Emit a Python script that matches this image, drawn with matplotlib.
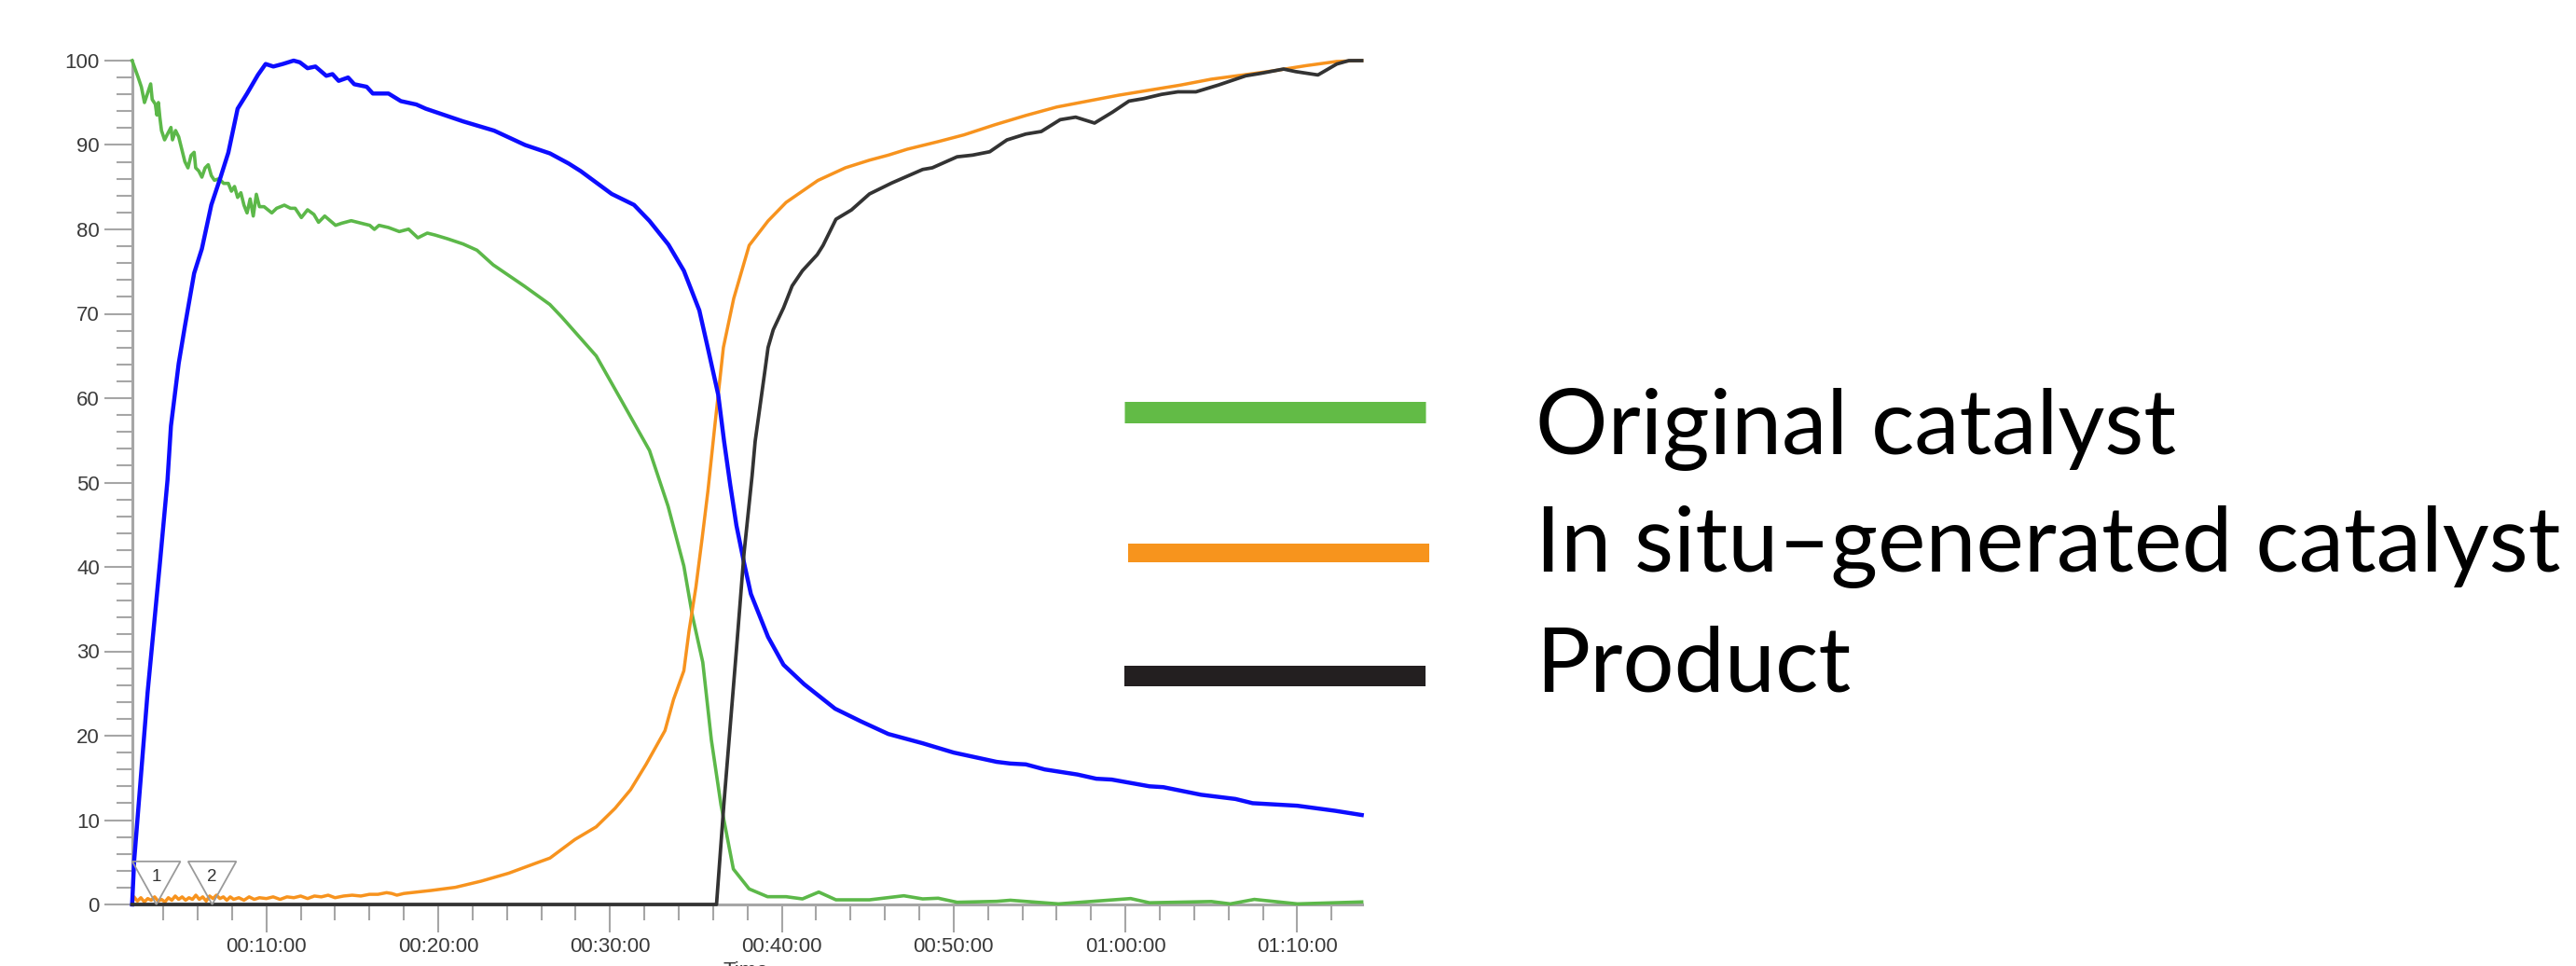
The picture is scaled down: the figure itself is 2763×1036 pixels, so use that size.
import matplotlib
matplotlib.use('Agg')
import matplotlib.pyplot as plt
from matplotlib.lines import Line2D
from matplotlib.patches import Polygon
from matplotlib.ticker import MultipleLocator, FuncFormatter

# ---------------- data (time in minutes, value in %) ----------------
blue_t = [2.19, 2.31, 3.09, 3.81, 4.25, 4.45, 4.90, 5.26, 5.80, 6.25, 6.80, 7.34, 7.79,
          8.33, 8.88, 9.51, 9.96, 10.41, 10.96, 11.59, 11.95, 12.40, 12.86, 13.49, 13.85,
          14.21, 14.76, 15.12, 15.84, 16.20, 17.11, 17.83, 18.73, 19.28, 21.45, 23.26,
          25.06, 26.51, 27.60, 28.3, 30.1, 31.4, 32.3, 33.4, 34.3, 35.2, 35.7, 36.3, 36.64,
          37.0, 37.36, 37.8, 38.2, 39.2, 40.1, 41.3, 43.1, 44.6, 46.2, 48.2, 50.0, 52.5,
          53.3, 54.2, 55.3, 57.2, 58.3, 59.2, 61.4, 62.2, 64.4, 66.4, 67.4, 70.0, 72.2, 73.75]
blue_v = [0.0, 5.2, 25.1, 40.5, 50.3, 56.7, 64.1, 68.5, 74.8, 77.7, 82.9, 86.2, 89.1,
          94.3, 96.1, 98.3, 99.6, 99.3, 99.6, 100.0, 99.8, 99.1, 99.3, 98.2, 98.4,
          97.6, 98.0, 97.2, 96.9, 96.1, 96.1, 95.2, 94.8, 94.3, 92.8, 91.7,
          90.0, 89.0, 87.8, 86.9, 84.2, 82.9, 81.0, 78.2, 75.1, 70.4, 65.9, 60.4, 54.9,
          49.7, 44.9, 40.5, 36.8, 31.7, 28.4, 26.1, 23.2, 21.7, 20.2, 19.1, 18.0, 16.9,
          16.7, 16.6, 16.0, 15.4, 14.9, 14.8, 14.0, 13.9, 13.0, 12.5, 12.0, 11.7, 11.1, 10.6]

green_t = [2.19, 2.55, 2.73, 2.91, 3.09, 3.27, 3.36, 3.54, 3.63, 3.72, 3.81, 3.90, 4.08,
           4.26, 4.45, 4.54, 4.72, 4.90, 5.08, 5.26, 5.44, 5.62, 5.80, 5.89, 6.07, 6.25,
           6.44, 6.62, 6.80, 6.98, 7.25, 7.52, 7.79, 7.97, 8.15, 8.33, 8.52, 8.70, 8.88,
           9.06, 9.24, 9.42, 9.60, 9.87, 10.32, 10.60, 11.05, 11.41, 11.68, 12.04, 12.40,
           12.77, 13.04, 13.40, 14.03, 14.39, 14.94, 15.66, 16.02, 16.29, 16.56, 17.11,
           17.74, 18.28, 18.82, 19.37, 19.82, 20.54, 21.45, 22.26, 23.2, 25.0, 26.5, 27.2,
           29.2, 30.7, 32.3, 33.38, 34.3, 34.8, 35.4, 35.9, 36.46, 37.18, 38.1, 39.17,
           40.25, 41.2, 42.15, 43.15, 45.1, 47.1, 48.2, 49.1, 50.2, 52.5, 53.3, 56.1, 58.3,
           60.3, 61.4, 65.0, 66.1, 67.5, 70.0, 73.75]
green_v = [100.0, 97.97, 96.87, 95.03, 96.13, 97.24, 95.39, 94.84, 93.55, 95.03, 93.18,
           91.71, 90.61, 91.34, 92.08, 90.61, 91.71, 90.97, 89.50, 88.03, 87.29, 88.76,
           89.13, 87.29, 86.92, 86.19, 87.29, 87.66, 86.37, 85.82, 86.00, 85.45, 85.45,
           84.53, 85.08, 83.79, 84.34, 82.87, 81.95, 83.61, 81.58, 84.16, 82.69, 82.69,
           81.95, 82.50, 82.87, 82.50, 82.50, 81.40, 82.32, 81.77, 80.84, 81.58, 80.48,
           80.73, 81.03, 80.66, 80.48, 80.00, 80.48, 80.22, 79.74, 80.03, 79.00, 79.56,
           79.33, 78.89, 78.27, 77.53, 75.8, 73.3, 71.1, 69.6, 65.0, 59.6, 53.8, 47.2,
           40.1, 34.2, 28.7, 19.5, 11.8, 4.2, 1.84, 0.92, 0.92, 0.66, 1.47, 0.55, 0.55,
           1.03, 0.66, 0.74, 0.26, 0.37, 0.5, 0.07, 0.4, 0.7, 0.2, 0.35, 0.07, 0.6, 0.07, 0.3]

orange_t = [2.19, 2.3, 2.5, 2.7, 2.9, 3.1, 3.3, 3.5, 3.7, 3.9, 4.1, 4.3, 4.5, 4.7, 4.9,
            5.1, 5.3, 5.5, 5.7, 5.9, 6.1, 6.3, 6.5, 6.7, 6.9, 7.1, 7.3, 7.5, 7.7, 7.9,
            8.1, 8.4, 8.7, 9.0, 9.3, 9.6, 10.0, 10.4, 10.8, 11.2, 11.6, 12.0, 12.4, 12.8,
            13.2, 13.6, 14.0, 14.5, 15.0, 15.5, 16.0, 16.5, 17.0, 17.3, 17.6, 18.0, 19.6,
            21.0, 22.5, 24.1, 25.7, 26.51, 27.96, 29.2, 30.3, 31.2, 32.1, 33.2, 33.7, 34.3,
            34.6, 35.0, 35.37, 35.7, 36.1, 36.6, 37.2, 38.1, 39.2, 40.25, 42.1, 43.7, 45.1,
            46.2, 47.3, 49.1, 50.6, 52.4, 54.2, 56.0, 57.8, 59.6, 61.4, 63.2, 65.0, 66.85,
            68.65, 70.5, 72.3, 73.5, 73.75]
orange_v = [0.0, 0.9, 0.4, 0.8, 0.3, 0.7, 0.5, 0.9, 0.4, 0.6, 0.3, 0.8, 0.5, 1.0, 0.6,
            0.9, 0.5, 0.8, 0.6, 1.1, 0.6, 0.9, 0.4, 1.0, 0.7, 1.1, 0.7, 0.9, 0.5, 0.9,
            0.6, 0.8, 0.5, 0.9, 0.6, 0.8, 0.7, 0.9, 0.6, 0.9, 0.8, 1.0, 0.7, 1.0,
            0.9, 1.1, 0.8, 1.0, 1.1, 1.0, 1.2, 1.2, 1.4, 1.3, 1.1, 1.3, 1.66,
            2.03, 2.76, 3.7, 4.9, 5.5, 7.7, 9.2, 11.4, 13.6, 16.6, 20.6, 24.3, 27.7,
            32.4, 37.6, 43.5, 49.0, 56.7, 66.0, 71.8, 78.1, 81.0, 83.2, 85.8, 87.3, 88.2,
            88.8, 89.5, 90.4, 91.2, 92.4, 93.5, 94.5, 95.2, 95.9, 96.5, 97.1, 97.8, 98.3,
            98.8, 99.4, 99.9, 100.0, 100.0]

black_t = [2.19, 36.2, 36.64, 37.36, 37.8, 38.27, 38.45, 39.0, 39.2, 39.5, 40.1, 40.6,
           41.2, 42.06, 42.4, 43.15, 44.05, 45.1, 46.4, 48.2, 48.76, 50.2, 51.1, 52.1,
           53.1, 54.2, 55.1, 56.2, 57.1, 58.2, 59.25, 60.2, 61.06, 62.1, 63.05, 64.1,
           65.4, 67.0, 67.9, 69.2, 69.9, 71.2, 72.3, 73.0, 73.75]
black_v = [0.0, 0.0, 12.2, 30.2, 41.6, 50.8, 54.9, 63.0, 66.0, 68.1, 70.7, 73.3,
           75.1, 77.0, 78.1, 81.2, 82.3, 84.2, 85.5, 87.1, 87.3, 88.6, 88.8, 89.2,
           90.6, 91.3, 91.6, 93.0, 93.3, 92.6, 93.9, 95.2, 95.5, 96.0, 96.3, 96.3,
           97.1, 98.2, 98.5, 99.0, 98.7, 98.3, 99.6, 100.0, 100.0]

marker_t = [3.6, 6.85]
marker_labels = ['1', '2']

legend_labels = ['Original catalyst', 'In situ\u2013generated catalyst', 'Product']
legend_colors = ['#62bb46', '#f7941d', '#231f20']

x_range = (2.19, 73.75)
y_range = (0, 100)

# ---------------- figure ----------------
W, H = 2763, 1036
fig = plt.figure(figsize=(W / 100, H / 100), dpi=100)
fig.patch.set_facecolor('white')

L, R, T, B = 141.7, 1460.6, 65.0, 970.0
ax = fig.add_axes([L / W, 1 - B / H, (R - L) / W, (B - T) / H])
ax.set_xlim(*x_range)
ax.set_ylim(*y_range)

spine_c = '#a6a6a6'
for s in ['top', 'right']:
    ax.spines[s].set_visible(False)
for s in ['left', 'bottom']:
    ax.spines[s].set_color(spine_c)
    ax.spines[s].set_linewidth(2.2)

ax.yaxis.set_major_locator(MultipleLocator(10))
ax.yaxis.set_minor_locator(MultipleLocator(2))
ax.xaxis.set_major_locator(MultipleLocator(10))
ax.xaxis.set_minor_locator(MultipleLocator(2))


def hms(m, pos=None):
    m = int(round(m))
    return f"{m // 60:02d}:{m % 60:02d}:00"


ax.xaxis.set_major_formatter(FuncFormatter(hms))
lab_c = '#3a3a3a'
ax.tick_params(axis='both', which='major', length=21.5, width=1.5, color=spine_c,
               labelsize=16, labelcolor=lab_c, direction='out')
ax.tick_params(axis='both', which='minor', length=12.5, width=1.5, color=spine_c,
               direction='out')
ax.tick_params(axis='y', which='major', pad=3.5)
ax.tick_params(axis='x', which='major', pad=4)
for lab in ax.get_xticklabels() + ax.get_yticklabels():
    lab.set_family(['Liberation Sans', 'DejaVu Sans'])

ax.plot(green_t, green_v, color='#5cb849', lw=2.6, clip_on=False, zorder=3)
ax.plot(blue_t, blue_v, color='#0d0dff', lw=3.2, clip_on=False, zorder=4)
ax.plot(orange_t, orange_v, color='#f7931e', lw=2.5, clip_on=False, zorder=3)
ax.plot(black_t, black_v, color='#333333', lw=2.7, clip_on=False, zorder=5)

# event markers (inverted triangles)
half_w, tri_h = 1.4, 5.1
for t, lab in zip(marker_t, marker_labels):
    tri = Polygon([(t - half_w, tri_h), (t + half_w, tri_h), (t, 0)], closed=True,
                  facecolor='none', edgecolor='#9a9a9a', lw=1.3, zorder=6, clip_on=False)
    ax.add_patch(tri)
    ax.text(t, 3.3, lab, ha='center', va='center', fontsize=13.5, color='#333333',
            family=['Liberation Sans', 'DejaVu Sans'], zorder=7)

# partially visible axis title at bottom edge (cut off in the reference too)
fig.text(776 / W, 1 - 1031 / H, 'Time', ha='left', va='top', fontsize=16, color=lab_c,
         family=['Liberation Sans', 'DejaVu Sans'])

# ---------------- legend ----------------
leg_lines = [(1206, 1529, 442, 23), (1210, 1533, 593, 20), (1206, 1529, 725, 22)]
for (x0, x1, y, th), c in zip(leg_lines, legend_colors):
    fig.add_artist(Line2D([x0 / W, x1 / W], [1 - y / H, 1 - y / H], transform=fig.transFigure,
                          color=c, lw=th * 0.72, solid_capstyle='butt'))

renderer = fig.canvas.get_renderer()
probe = fig.text(0, 0, legend_labels[1], fontsize=100, family=['Lato', 'DejaVu Sans'])
w100 = probe.get_window_extent(renderer).width
probe.remove()
fs = 100 * 1100 / w100

baselines = [487, 613, 742]
for lab, yb in zip(legend_labels, baselines):
    fig.text(1647 / W, 1 - yb / H, lab, fontsize=fs, family=['Lato', 'DejaVu Sans'],
             color='black', ha='left', va='baseline')

fig.savefig('out.png', dpi=100, facecolor='white')
